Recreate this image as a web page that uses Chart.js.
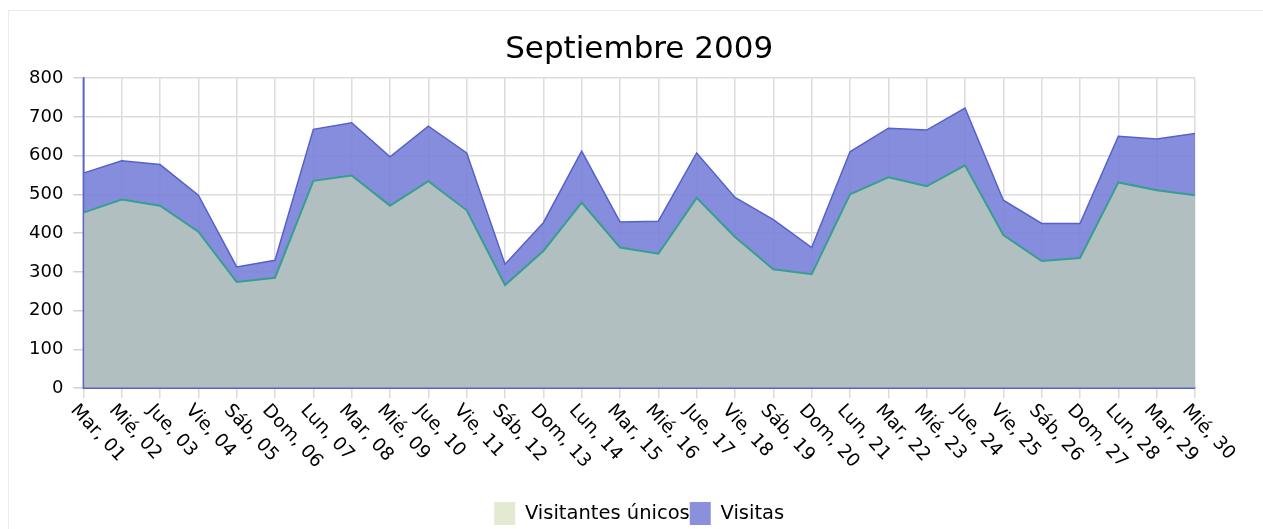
<!DOCTYPE html>
<html>
<head>
<meta charset="utf-8">
<script src="https://cdn.jsdelivr.net/npm/chart.js@4.4.0/dist/chart.umd.min.js"></script>
<style>
  html, body { margin: 0; padding: 0; background: #fff; overflow: hidden; }
  #frame { position: absolute; left: 8px; top: 10px; width: 1300px; height: 600px; border: 1px solid #ececec; }
  #wrap { position: absolute; left: 0; top: 0; width: 1263px; height: 529px; }
</style>
</head>
<body>
<div id="frame"></div>
<div id="wrap"><canvas id="visitsChart"></canvas></div>
<script>
// Days of September 2009
const days = [
    'Mar, 01', 'Mié, 02', 'Jue, 03', 'Vie, 04', 'Sáb, 05', 'Dom, 06', 'Lun, 07',
    'Mar, 08', 'Mié, 09', 'Jue, 10', 'Vie, 11', 'Sáb, 12', 'Dom, 13', 'Lun, 14',
    'Mar, 15', 'Mié, 16', 'Jue, 17', 'Vie, 18', 'Sáb, 19', 'Dom, 20', 'Lun, 21',
    'Mar, 22', 'Mié, 23', 'Jue, 24', 'Vie, 25', 'Sáb, 26', 'Dom, 27', 'Lun, 28',
    'Mar, 29', 'Mié, 30',
];

const uniqueVisitors = [
    453, 487, 471, 404, 274, 285, 535, 549, 471, 534,
    459, 266, 354, 479, 363, 347, 491, 390, 307, 294,
    500, 544, 521, 575, 395, 328, 336, 531, 511, 498,
];

const visits = [
    555, 587, 577, 498, 313, 330, 668, 685, 597, 676,
    607, 320, 427, 612, 429, 431, 607, 492, 435, 363,
    610, 671, 666, 723, 485, 425, 425, 650, 643, 657,
];

const yTicks = [0, 100, 200, 300, 400, 500, 600, 700, 800];

const fontFamily = '"DejaVu Sans", Verdana, sans-serif';
const xLabelFont = '18.5px ' + fontFamily;
const xLabelAngle = 47; // degrees, clockwise
const axisColor = '#5a64c8';

// Draw the x labels turned clockwise, starting at each tick (Chart.js only turns them the other way)
// and put the axis lines back on top of the filled areas
const slantedLabels = {
    id: 'slantedLabels',
    afterDraw(chart) {
        const scale = chart.scales.x;
        const area = chart.chartArea;
        const c = chart.ctx;
        c.save();
        c.strokeStyle = axisColor;
        c.lineWidth = 1.5;
        c.beginPath();
        c.moveTo(area.left, area.top);
        c.lineTo(area.left, area.bottom);
        c.lineTo(area.right, area.bottom);
        c.stroke();

        c.font = xLabelFont;
        c.fillStyle = '#000';
        c.textAlign = 'left';
        c.textBaseline = 'top';
        scale.ticks.forEach((tick, i) => {
            const x = scale.getPixelForTick(i);
            c.save();
            c.translate(x - 3, scale.top + 13);
            c.rotate(xLabelAngle * Math.PI / 180);
            c.fillText(chart.data.labels[i], 0, 0);
            c.restore();
        });
        c.restore();
    },
};

const ctx = document.getElementById('visitsChart').getContext('2d');

const chartData = {
    labels: days,
    datasets: [
        {
            label: 'Visitantes únicos',
            data: uniqueVisitors,
            borderColor: '#35a090',
            borderWidth: 2,
            backgroundColor: 'rgba(182,194,191,0.94)',
            legendColor: '#e2ebd2',
            fill: 'origin',
            tension: 0,
            pointRadius: 0,
            order: 0,
        },
        {
            label: 'Visitas',
            data: visits,
            borderColor: '#5661c9',
            borderWidth: 1.5,
            backgroundColor: 'rgba(120,129,216,0.9)',
            legendColor: '#8a90dc',
            fill: 'origin',
            tension: 0,
            pointRadius: 0,
            order: 1,
        },
    ],
};

const chartConfig = {
    type: 'line',
    data: chartData,
    plugins: [slantedLabels],
    options: {
        responsive: true,
        maintainAspectRatio: false,
        animation: false,
        layout: {
            padding: { left: 19, right: 68, top: 23, bottom: -6 },
        },
        scales: {
            x: {
                type: 'category',
                offset: false,
                grid: {
                    color: '#dcdcdc',
                    tickColor: '#dcdcdc',
                    tickLength: 10,
                    lineWidth: 1.5,
                },
                border: {
                    color: axisColor,
                    width: 1.5,
                },
                ticks: {
                    // kept only to reserve the room; drawn by slantedLabels
                    color: 'rgba(0,0,0,0)',
                    autoSkip: false,
                    maxRotation: 47,
                    minRotation: 47,
                    padding: 16.5,
                    font: { family: fontFamily, size: 18 },
                },
            },
            y: {
                min: 0,
                max: 800,
                grid: {
                    // minor tick marks at the 50s, gridlines at the 100s
                    color: (c) => (c.tick && c.tick.value % 100 === 0) ? '#dcdcdc' : 'rgba(0,0,0,0)',
                    tickColor: '#d0d0d0',
                    tickLength: 10,
                    lineWidth: 1.5,
                },
                border: {
                    color: axisColor,
                    width: 1.5,
                },
                ticks: {
                    stepSize: 50,
                    color: '#000',
                    padding: 10,
                    font: { family: fontFamily, size: 18 },
                    callback: (value) => yTicks.includes(value) ? value : '',
                },
            },
        },
        plugins: {
            title: {
                display: true,
                fullSize: false,
                text: 'Septiembre 2009',
                color: '#000',
                font: { family: fontFamily, size: 31, weight: 'normal' },
                padding: { top: 8, bottom: 10 },
            },
            legend: {
                position: 'bottom',
                fullSize: false,
                labels: {
                    color: '#000',
                    boxWidth: 21,
                    boxHeight: 23,
                    padding: 0,
                    font: { family: fontFamily, size: 19.5 },
                    generateLabels: (chart) => chart.data.datasets.map((ds, i) => ({
                        text: ds.label,
                        fillStyle: ds.legendColor,
                        strokeStyle: ds.legendColor,
                        lineWidth: 0,
                        datasetIndex: i,
                        fontColor: '#000',
                    })),
                },
            },
            tooltip: { enabled: false },
        },
    },
};

const visitsChart = new Chart(ctx, chartConfig);
</script>
</body>
</html>
